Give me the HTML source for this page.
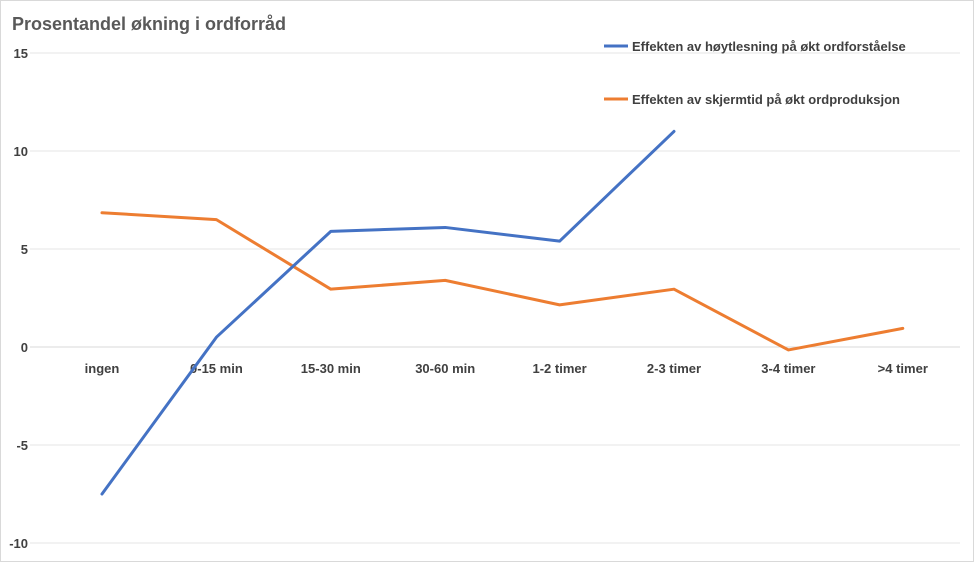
<!DOCTYPE html>
<html><head><meta charset="utf-8"><style>
body{margin:0;background:#fff;}
svg{display:block;font-family:"Liberation Sans",sans-serif;}
</style></head><body>
<svg id="chart" width="974" height="562" viewBox="0 0 974 562">
<rect x="0.5" y="0.5" width="973" height="561" fill="#fff" stroke="#d9d9d9"/>
<text x="12" y="30" font-size="18" font-weight="bold" fill="#595959">Prosentandel økning i ordforråd</text>
<g id="grid"></g><g id="yt"></g><g id="xt"></g><g id="lines"></g>
<g>
<line x1="604" y1="46" x2="628" y2="46" stroke="#4472c4" stroke-width="3"/>
<text x="632" y="51" font-size="13" font-weight="bold" fill="#404040">Effekten av høytlesning på økt ordforståelse</text>
<line x1="604" y1="99" x2="628" y2="99" stroke="#ed7d31" stroke-width="3"/>
<text x="632" y="104" font-size="13" font-weight="bold" fill="#404040">Effekten av skjermtid på økt ordproduksjon</text>
</g>
</svg>
<script>
const categories=["ingen","0-15 min","15-30 min","30-60 min","1-2 timer","2-3 timer","3-4 timer",">4 timer"];
const hoytlesning=[-7.5,0.5,5.9,6.1,5.4,11.0];
const skjermtid=[6.85,6.5,2.95,3.4,2.15,2.95,-0.15,0.95];
const yTicks=[15,10,5,0,-5,-10];
const NS="http://www.w3.org/2000/svg";
function y(v){return 347-v*19.6;}
function x(i){return 102+i*114.4;}
function mk(t,a,p){const e=document.createElementNS(NS,t);for(const k in a)e.setAttribute(k,a[k]);p.appendChild(e);return e;}
const g=document.getElementById('grid'),yt=document.getElementById('yt'),xt=document.getElementById('xt'),L=document.getElementById('lines');
yTicks.forEach(v=>{
 const l=mk('line',{x1:30,x2:960,y1:y(v),y2:y(v),stroke:v===0?'#d9d9d9':'#e6e6e6','stroke-width':1},g);
 
 
 const t=mk('text',{x:28,y:y(v)+5,'text-anchor':'end','font-size':13,'font-weight':'bold',fill:'#404040'},yt);
 t.textContent=v;
 
 
});
categories.forEach((c,i)=>{
 const t=mk('text',{x:x(i),y:373,'text-anchor':'middle','font-size':13,'font-weight':'bold',fill:'#404040'},xt);
 t.textContent=c;
 
 
});
function line(d,col,name){
 const p=mk('polyline',{points:d.map((v,i)=>x(i)+','+y(v)).join(' '),fill:'none',stroke:col,'stroke-width':3,'stroke-linejoin':'round','stroke-linecap':'round'},L);
 
 
}
line(skjermtid,'#ed7d31','series-skjermtid');
line(hoytlesning,'#4472c4','series-hoytlesning');
</script>
</body></html>
